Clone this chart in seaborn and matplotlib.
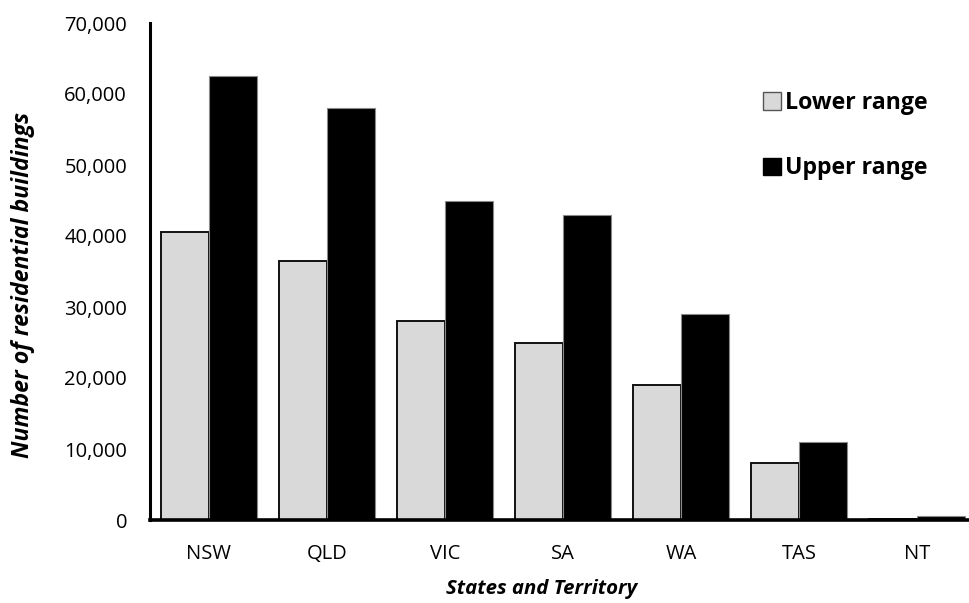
import matplotlib
matplotlib.use("Agg")
import matplotlib.pyplot as plt
import seaborn as sns
import pandas as pd
from matplotlib.patches import Patch
from matplotlib.ticker import FuncFormatter

states = ["NSW", "QLD", "VIC", "SA", "WA", "TAS", "NT"]
lower_range = [40500, 36500, 28000, 25000, 19000, 8000, 100]
upper_range = [62500, 58000, 45000, 43000, 29000, 11000, 500]
series_names = ["Lower range", "Upper range"]

df = pd.DataFrame({
    "State": states * 2,
    "Value": lower_range + upper_range,
    "Series": [series_names[0]] * len(states) + [series_names[1]] * len(states),
})

sns.set_theme(style="white")
plt.rcParams["font.family"] = ["Open Sans", "DejaVu Sans"]

W, H = 969, 603
fig = plt.figure(figsize=(W / 100, H / 100), dpi=100)
ax_l, ax_r, ax_b, ax_t = 150, 976, 520, 23
ax = fig.add_axes([ax_l / W, 1 - ax_b / H, (ax_r - ax_l) / W, (ax_b - ax_t) / H])

palette = {"Lower range": "#d9d9d9", "Upper range": "#000000"}
sns.barplot(data=df, x="State", y="Value", hue="Series", palette=palette,
            width=0.82, gap=0, saturation=1, ax=ax, legend=False)

n = len(states)
for i, p in enumerate(ax.patches):
    if i < n:
        p.set_edgecolor("#111111")
        p.set_linewidth(1.4)
    else:
        p.set_edgecolor("#8a8a8a")
        p.set_linewidth(0.8)

ax.set_xlim(-0.5, 6.5)
ax.set_ylim(0, 70000)
ax.set_yticks(range(0, 70001, 10000))
ax.yaxis.set_major_formatter(FuncFormatter(lambda v, _: f"{int(v):,}"))

for s in ["top", "right"]:
    ax.spines[s].set_visible(False)
ax.spines["left"].set_linewidth(2.2)
ax.spines["bottom"].set_linewidth(2.6)
ax.spines["left"].set_color("black")
ax.spines["bottom"].set_color("black")

ax.tick_params(axis="y", length=0, pad=16.5, labelsize=14.5, colors="black")
ax.tick_params(axis="x", length=0, pad=17, labelsize=14.5, colors="black")
ax.set_xlabel("")
ax.set_ylabel("")

renderer = fig.canvas.get_renderer()


def fit(txt, target, dim="w"):
    for _ in range(4):
        bb = txt.get_window_extent(renderer)
        cur = bb.width if dim == "w" else bb.height
        txt.set_fontsize(txt.get_fontsize() * target / cur)


xl = fig.text(542 / W, 1 - 589 / H, "States and Territory", ha="center", va="center",
              fontsize=14, fontweight="bold", fontstyle="italic", color="black")
fit(xl, 190, "w")
yl = fig.text(23 / W, 1 - 285 / H, "Number of residential buildings", ha="center",
              va="center", rotation=90, fontsize=14, fontweight="bold",
              fontstyle="italic", color="black")
fit(yl, 346, "h")

# legend
leg_fs = 16.5
handles = [Patch(facecolor="#d9d9d9", edgecolor="#555555", linewidth=1.0),
           Patch(facecolor="#000000", edgecolor="#000000", linewidth=1.0)]
leg = ax.legend(handles, series_names, loc="upper left",
                bbox_to_anchor=(763 / W, 1 - 91 / H), bbox_transform=fig.transFigure,
                frameon=False, borderpad=0, borderaxespad=0,
                handlelength=0.78, handleheight=0.78,
                handletextpad=0.2, labelspacing=1.8,
                prop={"weight": "bold", "size": leg_fs})
for t in leg.get_texts():
    t.set_color("black")
fig.canvas.draw()
bb = leg.get_texts()[0].get_window_extent(renderer)
leg_fs2 = leg_fs * 143 / bb.width
for t in leg.get_texts():
    t.set_fontsize(leg_fs2)

fig.savefig("out.png", dpi=100)
